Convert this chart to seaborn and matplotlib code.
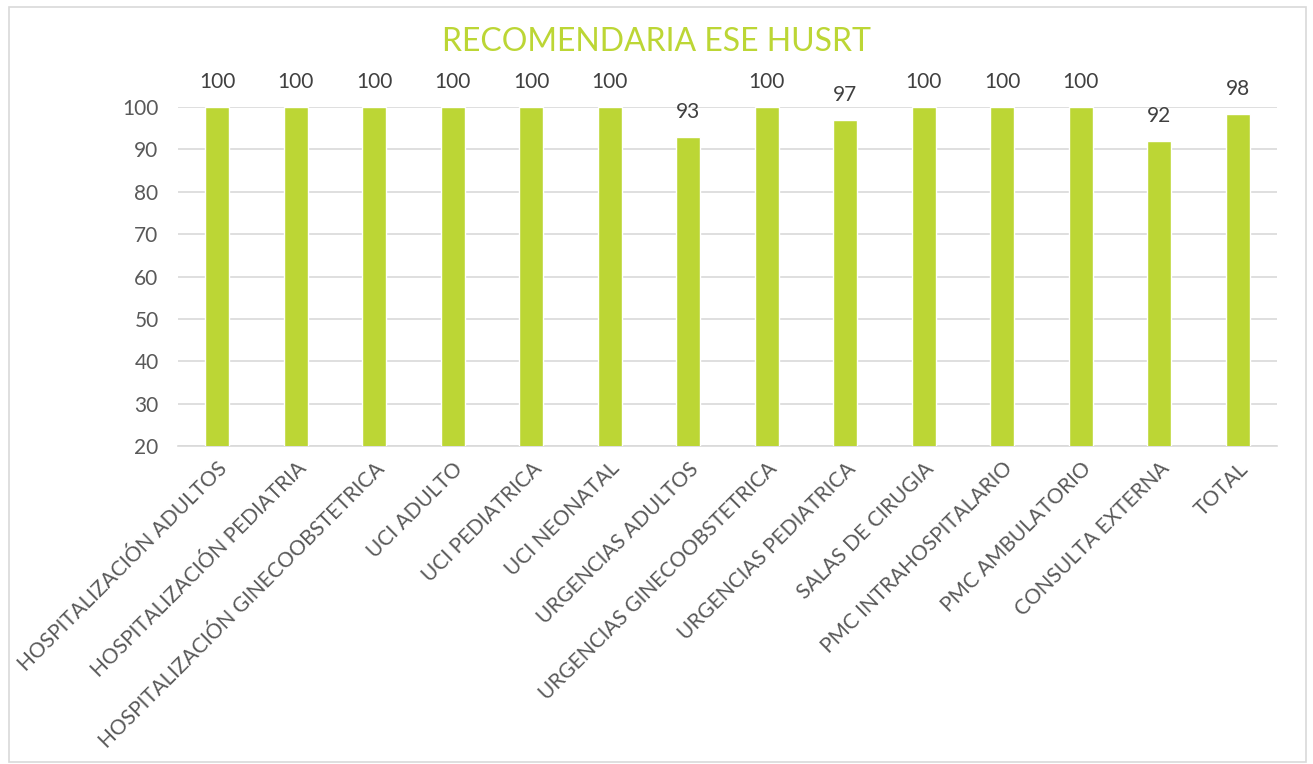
import numpy as np
import pandas as pd
import matplotlib
matplotlib.use('Agg')
import matplotlib.pyplot as plt
import seaborn as sns

# Chart data
servicios = ['HOSPITALIZACIÓN ADULTOS',
             'HOSPITALIZACIÓN PEDIATRIA',
             'HOSPITALIZACIÓN GINECOOBSTETRICA',
             'UCI ADULTO',
             'UCI PEDIATRICA',
             'UCI NEONATAL',
             'URGENCIAS ADULTOS',
             'URGENCIAS GINECOOBSTETRICA',
             'URGENCIAS PEDIATRICA',
             'SALAS DE CIRUGIA',
             'PMC INTRAHOSPITALARIO',
             'PMC AMBULATORIO',
             'CONSULTA EXTERNA',
             'TOTAL']
recomendaria = [100, 100, 100, 100, 100, 100, 93, 100, 97, 100, 100, 100, 92, 98.4]
y_ticks = [20, 30, 40, 50, 60, 70, 80, 90, 100]

bar_color = '#BCD635'
text_color = '#595959'
grid_color = '#D9D9D9'

sns.set_style('white')
plt.rcParams['font.family'] = ['Lato', 'DejaVu Sans']

df = pd.DataFrame({'servicio': servicios, 'valor': recomendaria})

fig = plt.figure(figsize=(13.13, 7.64), dpi=100)
ax = fig.add_axes([0.1356, 0.4162, 0.837, 0.4437])

sns.barplot(data=df, x='servicio', y='valor', color=bar_color,
            width=0.31, saturation=1, ax=ax, zorder=3)

ax.set_ylim(20, 100)
ax.set_yticks(y_ticks)
ax.set_xlim(-0.5, len(servicios) - 0.5)
ax.yaxis.grid(True, color=grid_color, linewidth=1.2, zorder=0)
ax.set_axisbelow(True)
for side in ['top', 'right', 'left']:
    ax.spines[side].set_visible(False)
ax.spines['bottom'].set_color(grid_color)
ax.spines['bottom'].set_linewidth(1.2)

ax.set_xlabel('')
ax.set_ylabel('')
ax.tick_params(axis='both', length=0, colors=text_color, labelsize=15)
ax.tick_params(axis='y', pad=14)
ax.set_xticks(range(len(servicios)))
ax.set_xticklabels(servicios, rotation=45, ha='right', rotation_mode='anchor')
ax.tick_params(axis='x', pad=9)

# value labels above bars
for i, v in enumerate(recomendaria):
    ax.text(i, v + 3.5, '%.0f' % v, ha='center', va='bottom',
            fontsize=15, color='#404040', clip_on=False)

fig.text(0.5, 0.945, 'RECOMENDARIA ESE HUSRT', ha='center', va='center',
         fontsize=23, color=bar_color)

# chart area border
border = plt.Rectangle((0.007, 0.003), 0.988, 0.988, transform=fig.transFigure,
                       fill=False, edgecolor=grid_color, linewidth=1.2)
fig.patches.append(border)

fig.savefig('out.png', dpi=100)
